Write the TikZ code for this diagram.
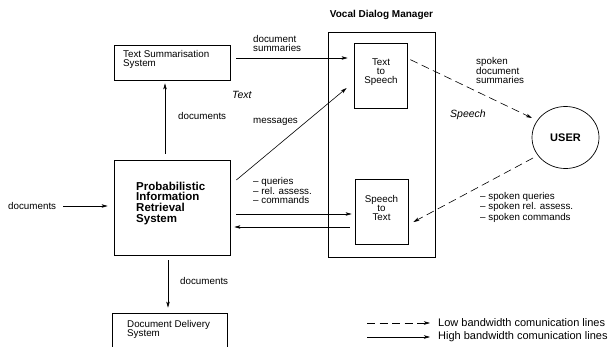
\documentclass[tikz,border=0pt]{standalone}
\usepackage{fontspec}
\setmainfont{Liberation Sans}
\usetikzlibrary{arrows.meta,calc,shapes.geometric}
\begin{document}
\begin{tikzpicture}[x=1pt,y=-1pt,
  box/.style={draw,line width=0.7pt,inner sep=0pt,minimum width=#1},
  lbl/.style={inner sep=0pt,align=left,font=\fontsize{9.8}{9}\selectfont},
  arr/.style={line width=0.6pt,-{Stealth[length=6pt,width=3.5pt,inset=1.5pt]}},
  dsh/.style={arr,dash pattern=on 8pt off 4.5pt}]
\useasboundingbox (0,0) rectangle (608,346);
% boxes
\node[box=116pt,minimum height=35pt] (ts) at (172,62.5) {};
\node[box=116pt,minimum height=95pt] (pirs) at (172,207.5) {};
\node[box=115pt,minimum height=47pt] (dd) at (169.5,336.5) {};
\node[box=107pt,minimum height=225pt] (vdm) at (381.5,144.5) {};
\node[box=53pt,minimum height=65pt] (tts) at (380.5,75.5) {};
\node[box=53pt,minimum height=65pt] (stt) at (381.5,211.5) {};
\node[draw,line width=0.7pt,ellipse,minimum width=67pt,minimum height=62pt,inner sep=0pt,
  font=\fontsize{11}{11}\selectfont\bfseries] (user) at (565.5,137.5) {USER};
% box texts
\node[lbl,anchor=north west] (tstxt) at (123,50.5) {Text Summarisation\\System};
\node[inner sep=0pt,align=left,anchor=north west,font=\fontsize{11.5}{10.7}\selectfont\bfseries] (pirstxt) at (136,181.5) {Probabilistic\\Information\\Retrieval\\System};
\node[lbl,anchor=north west] (ddtxt) at (127,320.5) {Document Delivery\\System};
\node[inner sep=0pt,font=\fontsize{10}{10}\selectfont\bfseries] (vdmtxt) at (381.5,15) {Vocal Dialog Manager};
\node[lbl,align=center,anchor=north] (ttstxt) at (381,58.5) {Text\\to\\Speech};
\node[lbl,align=center,anchor=north] (stttxt) at (381.5,195.5) {Speech\\to\\Text};
% labels
\node[lbl,anchor=west] (docin) at (8,206) {documents};
\node[lbl,anchor=north west] (dsum) at (253,35.5) {document\\summaries};
\node[lbl,anchor=west,font=\fontsize{10.5}{10}\selectfont\itshape] (textlbl) at (232,95) {Text};
\node[lbl,anchor=west] (docup) at (178,116) {documents};
\node[lbl,anchor=west] (msg) at (253,122) {messages};
\node[lbl,anchor=north west] (qry) at (253,177.5) {-- queries\\-- rel. assess.\\-- commands};
\node[lbl,anchor=north west] (sds) at (476,57) {spoken\\document\\summaries};
\node[lbl,anchor=west,font=\fontsize{10.5}{10}\selectfont\itshape] (speechlbl) at (450,115) {Speech};
\node[lbl,anchor=north west] (sq) at (480,192.5) {-- spoken queries\\-- spoken rel. assess.\\-- spoken commands};
\node[lbl,anchor=west] (docdown) at (180,281) {documents};
% connectors
\draw[arr] ($(docin.east)+(7,0)$) -- ($(pirs.west)+(-6,-1.5)$);
\draw[arr] ($(pirs.north)+(-7,-6)$) -- ($(ts.south)+(-7,3)$);
\draw[arr] ($(ts.east)+(6,-4.5)$) -- ($(tts.west)+(-6,-17.5)$);
\draw[arr] ($(pirs.east)+(6,-27.5)$) -- ($(tts.west)+(-7,12.5)$);
\draw[arr] ($(pirs.east)+(6,6.5)$) -- ($(stt.west)+(-3,2.5)$);
\draw[arr] ($(stt.west)+(-5,15.5)$) -- ($(pirs.east)+(4,19.5)$);
\draw[dsh] ($(tts.north east)+(3,17)$) -- ($(user.center)+(-33.5,-19.5)$);
\draw[dsh] ($(user.center)+(-32.5,20.5)$) -- ($(stt.east)+(5,10.5)$);
\draw[arr] ($(pirs.south)+(-4,5)$) -- ($(dd.north)+(-1.5,-5)$);
% legend
\coordinate (la) at (367,323);
\coordinate (lb) at (430,323);
\coordinate (lc) at (367,337);
\coordinate (ld) at (430,337);
\draw[dsh] (la) -- (lb);
\draw[arr] (lc) -- (ld);
\node[inner sep=0pt,anchor=west,font=\fontsize{11}{11}\selectfont] (low) at (438,323) {Low bandwidth comunication lines};
\node[inner sep=0pt,anchor=west,font=\fontsize{11}{11}\selectfont] (high) at (438,337) {High bandwidth comunication lines};
\end{tikzpicture}
\end{document}
